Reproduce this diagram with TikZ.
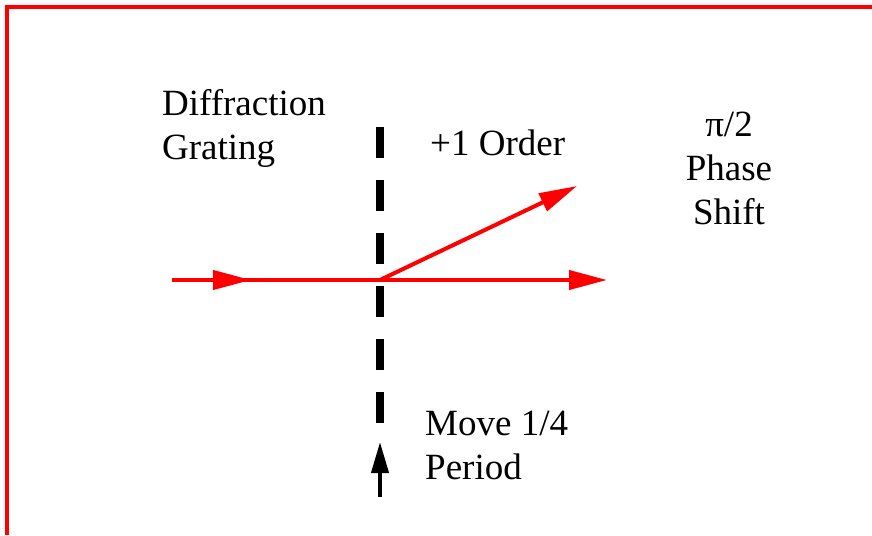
\documentclass[tikz,border=0pt]{standalone}
\usepackage{fontspec}
\setmainfont{Liberation Serif}
\usetikzlibrary{arrows.meta}
\begin{document}
\begin{tikzpicture}[
    x=1pt, y=-1pt,
    ray/.style={draw=red, line width=4pt},
    tip/.style={-{Triangle[length=38pt, width=19pt]}},
    txt/.style={font=\fontsize{37}{44}\selectfont, inner sep=0pt},
    grating/.style={line width=8pt, dash pattern=on 31pt off 22pt}
  ]
  \useasboundingbox (0,0) rectangle (872,535);
  \draw[red, line width=4pt] (7,535) -- (7,7) -- (872,7);
  \coordinate (src) at (172,280);
  \coordinate (mid) at (251,280);
  \coordinate (hit) at (380,280);
  \coordinate (zero) at (607,280);
  \coordinate (first) at (577,186);
  \coordinate (gtop) at (380,127);
  \coordinate (gbot) at (380,428);
  \coordinate (pushtail) at (380,497);
  \coordinate (pushtip) at (380,442);
  \draw[grating] (gtop) -- (gbot);
  \draw[ray, tip] (src) -- (zero);
  \draw[ray, tip] (src) -- (mid);
  \draw[ray, tip] (hit) -- (first);
  \draw[line width=4pt, -{Triangle[length=31pt, width=17pt]}] (pushtail) -- (pushtip);
  \node[txt, anchor=west, align=left] (grat) at (162,128) {Diffraction\\Grating};
  \node[txt, anchor=west] (order) at (430,143) {+1 Order};
  \node[txt, align=center] (shift) at (729,168) {π/2\\Phase\\Shift};
  \node[txt, anchor=west, align=left] (move) at (425,445) {Move 1/4\\Period};
\end{tikzpicture}
\end{document}
